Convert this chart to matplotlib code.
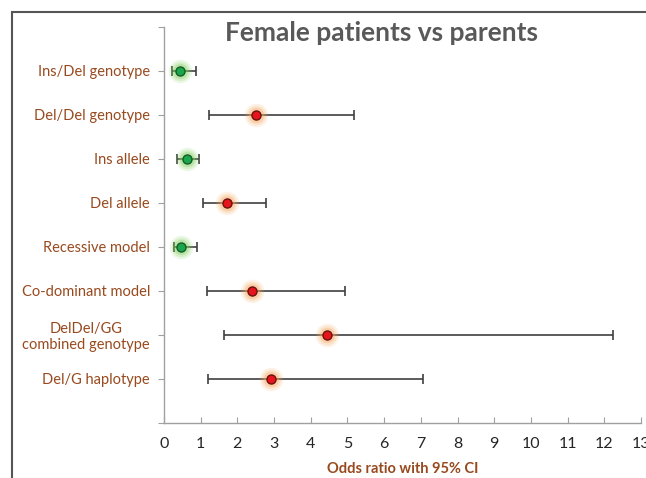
import matplotlib
matplotlib.use("Agg")
import matplotlib.pyplot as plt
from matplotlib.patches import Rectangle

categories = ["Ins/Del genotype", "Del/Del genotype", "Ins allele", "Del allele",
              "Recessive model", "Co-dominant model", "DelDel/GG\ncombined genotype",
              "Del/G haplotype"]
odds = [0.43, 2.52, 0.62, 1.72, 0.46, 2.41, 4.45, 2.92]
ci_low = [0.22, 1.23, 0.36, 1.06, 0.27, 1.16, 1.63, 1.21]
ci_high = [0.87, 5.19, 0.95, 2.79, 0.89, 4.93, 12.24, 7.06]
protective = [True, False, True, False, True, False, False, False]
xticks = list(range(0, 14))

plt.rcParams['font.family'] = ['Lato', 'DejaVu Sans']

fig = plt.figure(figsize=(6.46, 4.78), dpi=100)
fig.patches.append(Rectangle((11.5/646, -0.1), 1.0, 1 - 11.7/478 + 0.1,
                             transform=fig.transFigure, fill=False,
                             edgecolor='#555555', linewidth=1.5))
ax = fig.add_axes([164/646, 1 - 422.7/478, (641 - 164)/646, (422.7 - 26.7)/478])

n = len(categories)
ypos = list(range(1, n + 1))

grey = '#3f3f3f'
for y, o, lo, hi, prot in zip(ypos, odds, ci_low, ci_high, protective):
    ax.errorbar([o], [y], xerr=[[o - lo], [hi - o]], fmt='none', ecolor=grey,
                elinewidth=1.2, capsize=3.5, capthick=1.2, zorder=2)
    if prot:
        glow, fill, edge = '#7fcf5a', '#18a84a', '#165a2a'
    else:
        glow, fill, edge = '#f5a35a', '#e8141c', '#6a1010'
    for s, a in [(17, 0.14), (14, 0.2), (11, 0.32)]:
        ax.plot([o], [y], 'o', ms=s, color=glow, alpha=a, mec='none', zorder=3)
    ax.plot([o], [y], 'o', ms=6.5, mfc=fill, mec=edge, mew=1.0, zorder=4)

ax.set_xlim(0, 13)
ax.set_ylim(9, 0)
ax.set_xticks(xticks)
ax.set_xticklabels([str(t) for t in xticks], fontsize=11.5, color='#262626')
ax.set_yticks(list(range(0, 10)))
ax.set_yticklabels([''] + categories + [''], fontsize=10.5, color='#984a1f',
                   multialignment='center')
ax.tick_params(axis='y', direction='out', length=4, color='#a0a0a0', pad=6)
ax.tick_params(axis='x', direction='in', length=4, color='#a0a0a0', pad=10)
for s in ['top', 'right']:
    ax.spines[s].set_visible(False)
for s in ['left', 'bottom']:
    ax.spines[s].set_color('#a0a0a0')
    ax.spines[s].set_linewidth(1.0)

ax.set_xlabel('Odds ratio with 95% CI', fontsize=10.5, fontweight='bold',
              color='#984a1f', labelpad=8)
fig.text(0.590, 1 - 33/478, 'Female patients vs parents', fontsize=19,
         fontweight='bold', color='#595959', ha='center', va='center')

fig.savefig('out.png', dpi=100)
